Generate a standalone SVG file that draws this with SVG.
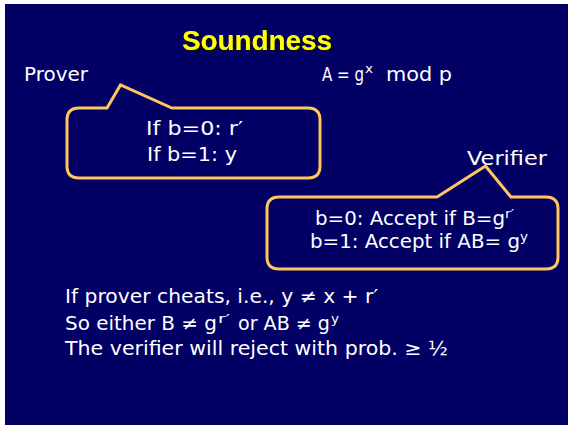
<svg xmlns="http://www.w3.org/2000/svg" width="568" height="425" viewBox="0 0 568 425">
  <style>
    .txt { font-family: "DejaVu Sans", "Liberation Sans", sans-serif; fill: #ffffff; font-size: 19px; }
    .sup { font-family: "DejaVu Sans", "Liberation Sans", sans-serif; fill: #ffffff; font-size: 12px; }
    .callout { fill: none; stroke: #ffc660; stroke-width: 3; stroke-linejoin: miter; }
    .title { font-family: "Liberation Sans", Arial, sans-serif; font-weight: bold; font-size: 28px; fill: #ffff00; }
  </style>
  <defs>
    <filter id="shadow" x="-10%" y="-20%" width="130%" height="160%">
      <feDropShadow dx="2" dy="2" stdDeviation="0.4" flood-color="#111111" flood-opacity="1"/>
    </filter>
  </defs>
  <!-- slide background -->
  <rect x="0" y="0" width="568" height="425" fill="#ffffff"/>
  <rect x="5" y="4" width="563" height="421" fill="#020065"/>

  <g id="title">
    <text class="title" x="182" y="50" textLength="150" lengthAdjust="spacingAndGlyphs" filter="url(#shadow)">Soundness</text>
  </g>

  <g id="prover-label">
    <text class="txt" x="24" y="81" textLength="64" lengthAdjust="spacingAndGlyphs">Prover</text>
  </g>

  <!-- A = g^x mod p -->
  <g id="public-key">
    <text class="txt" x="322" y="81" textLength="42" lengthAdjust="spacingAndGlyphs">A = g</text>
    <text class="sup" x="365" y="73" textLength="8" lengthAdjust="spacingAndGlyphs">x</text>
    <text class="txt" x="386" y="81" textLength="66" lengthAdjust="spacingAndGlyphs">mod p</text>
  </g>

  <!-- prover's response callout -->
  <g id="prover-callout">
    <path class="callout" d="M107,108 L120.5,85 L172,108 L308,108 Q320,108 320,120 L320,166 Q320,178 308,178 L79,178 Q67,178 67,166 L67,120 Q67,108 79,108 Z"/>
    <text class="txt" x="146" y="135" textLength="97" lengthAdjust="spacingAndGlyphs">If b=0: r′</text>
    <text class="txt" x="147" y="161" textLength="90" lengthAdjust="spacingAndGlyphs">If b=1: y</text>
  </g>

  <g id="verifier-label">
    <text class="txt" x="467" y="165" textLength="80" lengthAdjust="spacingAndGlyphs">Verifier</text>
  </g>

  <!-- verifier's check callout -->
  <g id="verifier-callout">
    <path class="callout" d="M437,197 L485.5,166 L511,197 L546,197 Q558,197 558,209 L558,257 Q558,269 546,269 L279,269 Q267,269 267,257 L267,209 Q267,197 279,197 Z"/>
    <text class="txt" x="315" y="225" textLength="190" lengthAdjust="spacingAndGlyphs">b=0: Accept if B=g</text>
    <text class="sup" x="505" y="218" textLength="9" lengthAdjust="spacingAndGlyphs">r′</text>
    <text class="txt" x="310" y="248" textLength="210" lengthAdjust="spacingAndGlyphs">b=1: Accept if AB= g</text>
    <text class="sup" x="520" y="241" textLength="8" lengthAdjust="spacingAndGlyphs">y</text>
  </g>

  <!-- conclusion -->
  <g id="conclusion">
    <text class="txt" x="65" y="303" textLength="313" lengthAdjust="spacingAndGlyphs">If prover cheats, i.e., y ≠ x + r′</text>
    <text class="txt" x="65" y="330" textLength="152" lengthAdjust="spacingAndGlyphs">So either B ≠ g</text>
    <text class="sup" x="218" y="323" textLength="12" lengthAdjust="spacingAndGlyphs">r′</text>
    <text class="txt" x="238" y="330" textLength="92" lengthAdjust="spacingAndGlyphs">or AB ≠ g</text>
    <text class="sup" x="331" y="323" textLength="8" lengthAdjust="spacingAndGlyphs">y</text>
    <text class="txt" x="65" y="355" textLength="383" lengthAdjust="spacingAndGlyphs">The verifier will reject with prob. ≥ ½</text>
  </g>
</svg>
